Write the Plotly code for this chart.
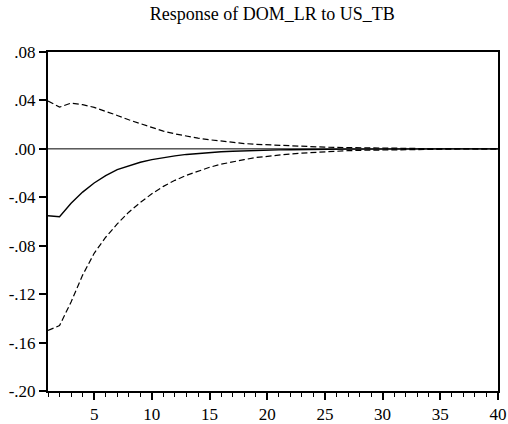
import plotly.graph_objects as go

periods = list(range(1, 41))

response = [-0.0553, -0.0560, -0.0449, -0.0357, -0.0282, -0.0222, -0.0172, -0.0139, -0.0111, -0.0089,
            -0.0072, -0.0058, -0.0046, -0.0037, -0.0030, -0.0024, -0.0020, -0.0016, -0.0013, -0.0010,
            -0.0008, -0.0007, -0.0005, -0.0004, -0.0003, -0.0003, -0.0002, -0.0002, -0.0001, -0.0001,
            -0.0001, -0.0001, 0.0000, 0.0000, 0.0000, 0.0000, 0.0000, 0.0000, 0.0000, 0.0000]

upper = [0.0395, 0.0345, 0.0378, 0.0365, 0.0343, 0.0312, 0.0276, 0.0240, 0.0207, 0.0174,
         0.0146, 0.0124, 0.0105, 0.0088, 0.0075, 0.0063, 0.0052, 0.0044, 0.0038, 0.0033,
         0.0028, 0.0024, 0.0020, 0.0017, 0.0014, 0.0012, 0.0010, 0.0008, 0.0006, 0.0005,
         0.0004, 0.0003, 0.0003, 0.0002, 0.0002, 0.0001, 0.0001, 0.0001, 0.0001, 0.0000]

lower = [-0.1500, -0.1460, -0.1265, -0.1043, -0.0863, -0.0730, -0.0620, -0.0523, -0.0443, -0.0371,
         -0.0310, -0.0260, -0.0219, -0.0183, -0.0152, -0.0127, -0.0105, -0.0089, -0.0072, -0.0061,
         -0.0050, -0.0042, -0.0035, -0.0029, -0.0024, -0.0019, -0.0015, -0.0012, -0.0010, -0.0008,
         -0.0006, -0.0005, -0.0004, -0.0003, -0.0002, -0.0002, -0.0001, -0.0001, -0.0001, 0.0000]

y_tickvals = [0.08, 0.04, 0.0, -0.04, -0.08, -0.12, -0.16, -0.20]
y_ticktext = [".08", ".04", ".00", "-.04", "-.08", "-.12", "-.16", "-.20"]
x_tickvals = [5, 10, 15, 20, 25, 30, 35, 40]

title_text = "Response of DOM_LR to US_TB"

fig = go.Figure()
fig.add_trace(go.Scatter(x=[1, 40], y=[0, 0], mode="lines",
                         line=dict(color="black", width=1), hoverinfo="skip"))
fig.add_trace(go.Scatter(x=periods, y=upper, mode="lines",
                         line=dict(color="black", width=1.2, dash="6px,3px")))
fig.add_trace(go.Scatter(x=periods, y=lower, mode="lines",
                         line=dict(color="black", width=1.2, dash="6px,3px")))
fig.add_trace(go.Scatter(x=periods, y=response, mode="lines",
                         line=dict(color="black", width=1.4)))

font_family = "Liberation Serif"

fig.update_layout(
    width=508, height=424,
    margin=dict(l=48, r=10, t=52, b=33, autoexpand=False),
    paper_bgcolor="white", plot_bgcolor="white",
    showlegend=False,
    font=dict(family=font_family, size=17, color="black"),
    title=dict(text=title_text, x=0.536, xanchor="center", y=0.967, yanchor="middle",
               font=dict(family=font_family, size=18, color="black")),
    xaxis=dict(range=[1, 40], tickvals=x_tickvals, ticks="outside", ticklen=7,
               tickwidth=1.5, tickcolor="black", showgrid=False, zeroline=False,
               showline=True, linecolor="black", linewidth=2, mirror=True,
               automargin=False,
               minor=dict(tick0=1, dtick=1, ticks="outside", ticklen=4, tickwidth=1.2,
                          tickcolor="black", showgrid=False),
               tickfont=dict(family=font_family, size=17)),
    yaxis=dict(range=[-0.20, 0.08], tickvals=y_tickvals, ticktext=y_ticktext,
               ticks="outside", ticklen=7, tickwidth=1.5, tickcolor="black",
               showgrid=False, zeroline=False, showline=True, linecolor="black",
               linewidth=2, mirror=True, automargin=False,
               tickfont=dict(family=font_family, size=17)),
)

fig.write_html("out.html",
               config={"displayModeBar": False},
               post_script="document.body.style.margin='0px';document.body.style.overflow='hidden';")
